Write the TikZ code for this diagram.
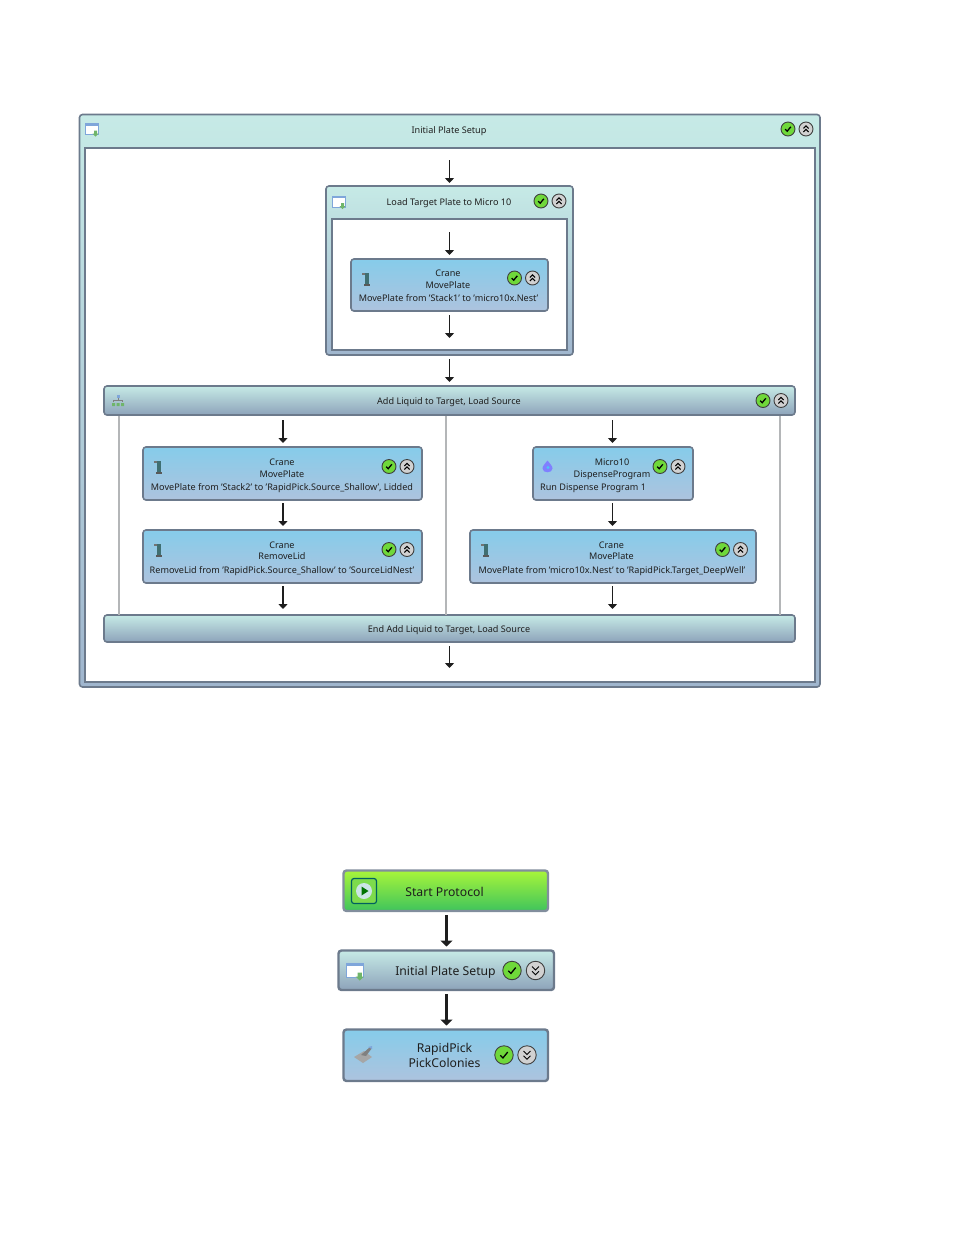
\documentclass[tikz,border=0pt]{standalone}
\usepackage{fontspec}
\setmainfont{Noto Sans}
\usetikzlibrary{arrows.meta}
\definecolor{edge}{HTML}{6C7A8C}
\definecolor{ink}{HTML}{1E1E1E}
\definecolor{tealtop}{HTML}{C6EAE6}
\definecolor{tealmid}{HTML}{B2D8DC}
\definecolor{slatebot}{HTML}{8DA3BA}
\definecolor{frbot}{HTML}{A0B6CE}
\definecolor{bluetop}{HTML}{86CCEA}
\definecolor{bluebot}{HTML}{ADC3DE}
\definecolor{grntop}{HTML}{A8F53A}
\definecolor{grnbot}{HTML}{3FC45C}
\definecolor{okgreen}{HTML}{6FD83A}
\definecolor{rail}{HTML}{B4B6B8}
\definecolor{winblue}{HTML}{7FA6DA}
\definecolor{wingreen}{HTML}{6FB56A}
\definecolor{cranecol}{HTML}{3F6F72}
\newcommand{\bx}[6]{\node[#1,minimum width={(#5-#3)*1pt},minimum height={(#6-#4)*1pt}] (#2) at ({(#3+#5)/2},{(#4+#6)/2}) {};}
\tikzset{
  x=1pt,y=-1pt,
  base/.style={draw=edge,line width=1.6pt,rounded corners=3pt,inner sep=0,outer sep=0},
  frame/.style={base,top color=tealtop,bottom color=frbot},
  inner/.style={draw=edge,line width=1.6pt,fill=white,inner sep=0,outer sep=0},
  bar/.style={base,top color=tealtop,middle color=tealmid,bottom color=slatebot},
  task/.style={base,top color=bluetop,bottom color=bluebot},
  go/.style={base,draw=edge!85,line width=2pt,top color=grntop,bottom color=grnbot},
  big/.style={base,line width=2.4pt},
  lbl/.style={font=\fontsize{9.1}{10}\selectfont,text=ink,inner sep=0,text height=7pt,text depth=2pt,yshift=-1pt},
  lblbig/.style={font=\fontsize{12.2}{13}\selectfont,text=ink,inner sep=0,text height=9pt,text depth=3pt,yshift=-1.5pt},
  arr/.style={draw=ink,line width=1.6pt,-{Triangle[length=5pt,width=9pt]}},
  arrbig/.style={draw=ink,line width=2.2pt,-{Triangle[length=6pt,width=12pt]}},
  rl/.style={draw=rail,line width=1.2pt},
  okicon/.pic={
    \draw[draw=black!75,fill=okgreen,line width=.9pt] (0,0) circle (7);
    \draw[black,line width=1.3pt] (-2.8,.2) -- (-.8,2.2) -- (2.8,-2.2);
  },
  upicon/.pic={
    \draw[draw=black!75,fill=black!18,line width=.9pt] (0,0) circle (7);
    \draw[black,line width=1pt] (-2.6,-.6) -- (0,-3.2) -- (2.6,-.6) (-2.6,3) -- (0,.4) -- (2.6,3);
  },
  downicon/.pic={
    \draw[draw=black!75,fill=black!18,line width=.9pt] (0,0) circle (7);
    \draw[black,line width=1pt] (-2.6,-3) -- (0,-.4) -- (2.6,-3) (-2.6,.6) -- (0,3.2) -- (2.6,.6);
  },
  craneicon/.pic={
    \fill[black!55] (-4,-6.5) rectangle (2,-4.5);
    \fill[cranecol] (-1.5,-6) rectangle (2.8,6.5);
    \fill[black!65] (-2.5,4.5) rectangle (3.5,6.5);
  },
  winicon/.pic={
    \draw[draw=winblue,fill=white,line width=1pt] (-6.5,-5.5) rectangle (6.5,5.5);
    \fill[winblue] (-6.5,-5.5) rectangle (6.5,-3.5);
    \fill[wingreen] (2,1.5) rectangle (5,4.5) (.5,4.5) -- (6.5,4.5) -- (3.5,7.5) -- cycle;
  },
  treeicon/.pic={
    \fill[winblue] (-1.5,-6) rectangle (1.5,-3.5);
    \draw[gray,line width=.5pt] (0,-3.5) -- (0,-1) (-4.5,1) -- (-4.5,-1) -- (4.5,-1) -- (4.5,1);
    \fill[wingreen] (-6,2) rectangle (-3,5) (-1.5,2) rectangle (1.5,5) (3,2) rectangle (6,5);
  },
  dropicon/.pic={
    \fill[blue!50!white] (0,-6) .. controls (2,-3) and (5,-1) .. (5,2) .. controls (5,7) and (-5,7) .. (-5,2) .. controls (-5,-1) and (-2,-3) .. (0,-6) -- cycle;
    \fill[cyan!70!white] (.5,1) circle (1.6);
  },
  pickicon/.pic={
    \fill[black!35] (-10,3) -- (0,-3) -- (8,3) -- (-1,9) -- cycle;
    \fill[black!50] (-3,1) -- (6,-7) -- (8,-6) -- (2,2) -- cycle;
    \fill[winblue] (4,-7) -- (8,-8) -- (8,-5) -- cycle;
  },
  playicon/.pic={
    \draw[draw=teal!75!black,fill=green!55!lime!80!black!70!white,line width=1.2pt,rounded corners=2.5pt] (-12.5,-12.5) rectangle (12.5,12.5);
    \fill[white!80!teal] (0,0) circle (8);
    \fill[green!45!black] (-2.5,-4.5) -- (4.5,0) -- (-2.5,4.5) -- cycle;
  }
}
\begin{document}
\begin{tikzpicture}
\useasboundingbox (0,0) rectangle (954,1235);
\coordinate (axisM) at (449.5,0);
\coordinate (axisL) at (283,0);
\coordinate (axisR) at (612.5,0);
\coordinate (axisB) at (446.5,0);
% outer group
\bx{frame}{outer}{79.5}{114.5}{820}{687}
\bx{inner}{outerin}{85}{148}{815}{682}
\node[lbl] (outert) at (449,129.5) {Initial Plate Setup};
\pic at (92,129) {winicon};
\pic at (788,129) {okicon};
\pic at (806,129) {upicon};
% load target group
\bx{frame}{load}{326}{186}{573}{355}
\bx{inner}{loadin}{332}{219}{567}{350}
\node[lbl] (loadt) at (449,201.5) {Load Target Plate to Micro 10};
\pic at (339,201.5) {winicon};
\pic at (541,201) {okicon};
\pic at (559,201) {upicon};
% crane 1
\bx{task}{t1}{351}{259}{548}{311}
\node[lbl] (t1a) at (448,272.5) {Crane};
\node[lbl] (t1b) at (448,284.5) {MovePlate};
\node[lbl] (t1c) at (448.5,297.5) {MovePlate from 'Stack1' to 'micro10x.Nest'};
\pic at (366,279) {craneicon};
\pic at (514.5,278) {okicon};
\pic at (532.5,278) {upicon};
% parallel bars
\bx{bar}{add}{104}{386}{795}{415}
\node[lbl] (addt) at (449,401) {Add Liquid to Target, Load Source};
\pic at (118,401) {treeicon};
\pic at (763,400.5) {okicon};
\pic at (781,400.5) {upicon};
\bx{bar}{endb}{104}{615}{795}{642}
\node[lbl] (endt) at (449,629) {End Add Liquid to Target, Load Source};
% rails
\coordinate (r1) at (119,416); \coordinate (r2) at (446,416); \coordinate (r3) at (780,416);
\draw[rl] (r1) -- (r1 |- endb.north);
\draw[rl] (r2) -- (r2 |- endb.north);
\draw[rl] (r3) -- (r3 |- endb.north);
% left branch
\bx{task}{t2}{143}{447}{422}{500}
\node[lbl] (t2a) at (282,462) {Crane};
\node[lbl] (t2b) at (282,473.5) {MovePlate};
\node[lbl] (t2c) at (282,487) {MovePlate from 'Stack2' to 'RapidPick.Source\_Shallow', Lidded};
\pic at (158,467) {craneicon};
\pic at (389,466.5) {okicon};
\pic at (407,466.5) {upicon};
\bx{task}{t3}{143}{530}{422}{583}
\node[lbl] (t3a) at (282,545) {Crane};
\node[lbl] (t3b) at (282,556) {RemoveLid};
\node[lbl] (t3c) at (282,569.5) {RemoveLid from 'RapidPick.Source\_Shallow' to 'SourceLidNest'};
\pic at (158,550) {craneicon};
\pic at (389,549.5) {okicon};
\pic at (407,549.5) {upicon};
% right branch
\bx{task}{t4}{533}{447}{693}{500}
\node[lbl] (t4a) at (612,462) {Micro10};
\node[lbl] (t4b) at (612,473.5) {DispenseProgram};
\node[lbl,anchor=west] (t4c) at (540,487) {Run Dispense Program 1};
\pic at (547.5,466.5) {dropicon};
\pic at (660,466.5) {okicon};
\pic at (678,466.5) {upicon};
\bx{task}{t5}{470}{530}{756}{583}
\node[lbl] (t5a) at (611.5,545) {Crane};
\node[lbl] (t5b) at (611.5,556) {MovePlate};
\node[lbl] (t5c) at (612,569.5) {MovePlate from 'micro10x.Nest' to 'RapidPick.Target\_DeepWell'};
\pic at (485,550) {craneicon};
\pic at (722.5,549.5) {okicon};
\pic at (740.5,549.5) {upicon};
% connectors
\draw[arr,shorten <=12pt,shorten >=3pt] (axisM |- outerin.north) -- (axisM |- load.north);
\draw[arr,shorten <=13pt,shorten >=4pt] (axisM |- loadin.north) -- (axisM |- t1.north);
\draw[arr,shorten <=4pt,shorten >=12pt] (axisM |- t1.south) -- (axisM |- loadin.south);
\draw[arr,shorten <=4pt,shorten >=4pt] (axisM |- load.south) -- (axisM |- add.north);
\draw[arr,shorten <=5pt,shorten >=4pt] (axisL |- add.south) -- (axisL |- t2.north);
\draw[arr,shorten <=3pt,shorten >=4pt] (axisL |- t2.south) -- (axisL |- t3.north);
\draw[arr,shorten <=3pt,shorten >=6pt] (axisL |- t3.south) -- (axisL |- endb.north);
\draw[arr,shorten <=5pt,shorten >=4pt] (axisR |- add.south) -- (axisR |- t4.north);
\draw[arr,shorten <=3pt,shorten >=4pt] (axisR |- t4.south) -- (axisR |- t5.north);
\draw[arr,shorten <=3pt,shorten >=6pt] (axisR |- t5.south) -- (axisR |- endb.north);
\draw[arr,shorten <=4pt,shorten >=14pt] (axisM |- endb.south) -- (axisM |- outerin.south);
% lower chain
\bx{go,big,draw=edge!85}{start}{343.5}{870.5}{548}{911}
\node[lblbig] (startt) at (444.5,891.5) {Start Protocol};
\pic at (364,891) {playicon};
\bx{bar,big}{ips}{338.5}{950.5}{554}{990}
\node[lblbig] (ipst) at (445.5,970.5) {Initial Plate Setup};
\pic[scale=1.35] at (355,970.5) {winicon};
\pic[scale=1.32] at (512,970.5) {okicon};
\pic[scale=1.32] at (535.5,970.5) {downicon};
\bx{task,big}{rp}{343.5}{1029.5}{548}{1081}
\node[lblbig] (rpa) at (444.5,1048) {RapidPick};
\node[lblbig] (rpb) at (444.5,1063) {PickColonies};
\pic at (364,1054) {pickicon};
\pic[scale=1.32] at (504,1055) {okicon};
\pic[scale=1.32] at (527,1055) {downicon};
\draw[arrbig,shorten <=4pt,shorten >=4pt] (axisB |- start.south) -- (axisB |- ips.north);
\draw[arrbig,shorten <=4pt,shorten >=4pt] (axisB |- ips.south) -- (axisB |- rp.north);
\end{tikzpicture}
\end{document}
